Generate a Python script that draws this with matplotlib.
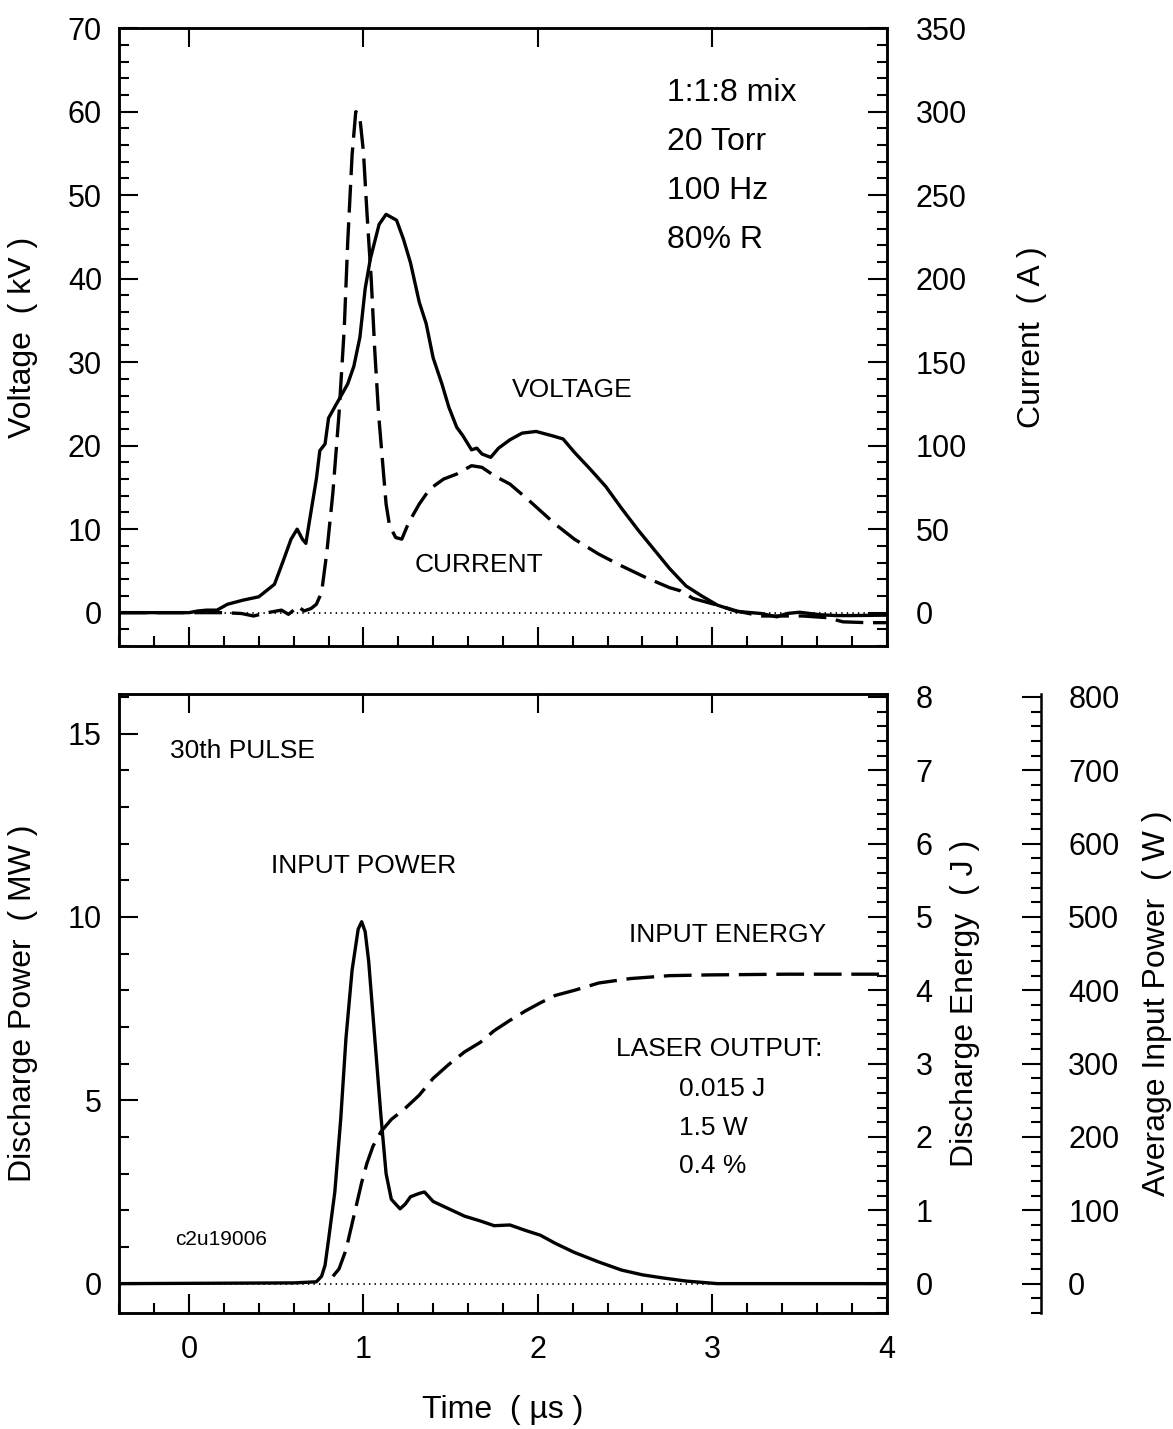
import numpy as np
import matplotlib
matplotlib.use('Agg')
import matplotlib.pyplot as plt
from matplotlib.ticker import MultipleLocator

plt.rcParams['font.family'] = ['Liberation Sans', 'DejaVu Sans']
plt.rcParams['lines.scale_dashes'] = False

# ---- top panel: voltage (kV) and current (A) vs time (us)
t_volt = [-0.4, 0.0, 0.05, 0.10, 0.16, 0.22, 0.31, 0.40, 0.49, 0.54,
          0.585, 0.62, 0.65, 0.67, 0.69, 0.73, 0.75, 0.78, 0.80, 0.84,
          0.87, 0.91, 0.945, 0.98, 1.01, 1.04, 1.09, 1.13, 1.19, 1.23,
          1.27, 1.32, 1.36, 1.40, 1.45, 1.49, 1.535, 1.57, 1.62, 1.65,
          1.68, 1.73, 1.775, 1.84, 1.91, 1.99, 2.08, 2.145, 2.21, 2.30,
          2.39, 2.48, 2.575, 2.665, 2.755, 2.85, 2.94, 3.03, 3.14, 3.28,
          3.37, 3.43, 3.50, 3.62, 3.71, 3.80, 4.0]
voltage = [0, 0, 0.2, 0.3, 0.3, 1.0, 1.5, 1.9, 3.4, 6.2,
           8.8, 10.0, 8.8, 8.3, 10.9, 16.0, 19.4, 20.2, 23.3, 24.8,
           25.9, 27.4, 29.5, 33.0, 38.8, 42.4, 46.5, 47.7, 47.0, 44.7,
           41.9, 37.2, 34.6, 30.5, 27.4, 24.6, 22.2, 21.2, 19.5, 19.7,
           19.0, 18.6, 19.7, 20.7, 21.5, 21.7, 21.2, 20.8, 19.2, 17.2,
           15.1, 12.5, 9.9, 7.6, 5.3, 3.2, 2.0, 0.9, 0.15, -0.1,
           -0.5, -0.1, 0.05, -0.25, -0.35, -0.35, -0.3]

t_curr = [-0.4, 0.0, 0.2, 0.30, 0.37, 0.45, 0.53, 0.57, 0.60, 0.62,
          0.66, 0.70, 0.73, 0.76, 0.79, 0.825, 0.86, 0.89, 0.91, 0.935,
          0.956, 0.978, 1.0, 1.02, 1.045, 1.065, 1.087, 1.11, 1.13, 1.15,
          1.185, 1.22, 1.26, 1.32, 1.38, 1.46, 1.535, 1.62, 1.68, 1.75,
          1.84, 1.93, 2.015, 2.10, 2.21, 2.35, 2.48, 2.62, 2.755, 2.82,
          2.89, 3.03, 3.14, 3.28, 3.39, 3.52, 3.66, 3.75, 3.89, 4.0]
current = [0, 0, 0, -0.5, -2, 0, 1.5, -1, 1.5, 4,
           1, 2.5, 5, 12, 36, 72, 119, 170, 222, 274,
           300, 298, 276, 240, 199, 157, 119, 90, 65, 52,
           45, 44, 54, 65, 74, 80, 83, 88, 87, 82,
           77, 69, 61, 53, 44, 35, 28, 21, 15, 13,
           8.5, 4.5, 1, -2, -2, -2, -3, -5.5, -6, -6]

# ---- bottom panel: discharge power (MW) and energy (J)
t_pow = [-0.4, 0.6, 0.73, 0.76, 0.78, 0.80, 0.836, 0.87, 0.90, 0.935,
         0.97, 0.99, 1.01, 1.03, 1.065, 1.10, 1.13, 1.16, 1.21, 1.24,
         1.27, 1.32, 1.35, 1.40, 1.49, 1.58, 1.67, 1.75, 1.84, 1.93,
         2.015, 2.10, 2.21, 2.35, 2.48, 2.60, 2.71, 2.85, 3.03, 4.0]
power = [0, 0.02, 0.05, 0.2, 0.5, 1.2, 2.5, 4.5, 6.7, 8.55,
         9.67, 9.87, 9.6, 8.8, 6.7, 4.6, 3.0, 2.3, 2.04, 2.17,
         2.37, 2.46, 2.5, 2.24, 2.04, 1.84, 1.71, 1.58, 1.6, 1.45,
         1.32, 1.1, 0.85, 0.59, 0.37, 0.24, 0.16, 0.07, 0.0, 0.0]

t_en = [0.825, 0.86, 0.90, 0.945, 0.99, 1.02, 1.055, 1.10, 1.16, 1.23,
        1.32, 1.40, 1.49, 1.58, 1.67, 1.75, 1.84, 1.93, 2.015, 2.10,
        2.21, 2.35, 2.53, 2.755, 2.98, 3.43, 4.0]
energy = [0.1, 0.2, 0.46, 0.92, 1.38, 1.64, 1.875, 2.07, 2.24, 2.37,
          2.57, 2.8, 2.99, 3.16, 3.29, 3.45, 3.59, 3.72, 3.83, 3.93,
          4.0, 4.1, 4.16, 4.2, 4.21, 4.22, 4.22]

rep_rate = 100  # Hz
conditions = ['1:1:8 mix', '20 Torr', '100 Hz', '80% R']
laser_out = ['0.015 J', '1.5 W', '0.4 %']

TICK_FS = 22
LABEL_FS = 23
ANN_FS = 19
LW = 2.4
DASH = (20, 7)

fig = plt.figure(figsize=(11.73, 14.29), dpi=100)
ax_top = fig.add_axes([0.1017, 0.5479, 0.6541, 0.4324])
ax_bot = fig.add_axes([0.1017, 0.0812, 0.6541, 0.4331])


def style(ax, pad=12.5):
    for s in ax.spines.values():
        s.set_linewidth(1.8)
    ax.tick_params(which='both', direction='in', width=1.5, labelsize=TICK_FS)
    ax.tick_params(which='major', length=14)
    ax.tick_params(which='minor', length=7)
    ax.tick_params(axis='y', pad=pad)


# top panel
ax_top.plot(t_volt, voltage, color='black', lw=LW)
ax_top.axhline(0, color='black', lw=1.3, ls=(0, (1, 3)))
ax_top.set_xlim(-0.4, 4.0)
ax_top.set_ylim(-4, 70)
ax_top.xaxis.set_major_locator(MultipleLocator(1))
ax_top.xaxis.set_minor_locator(MultipleLocator(0.2))
ax_top.yaxis.set_major_locator(MultipleLocator(10))
ax_top.yaxis.set_minor_locator(MultipleLocator(2))
style(ax_top)
ax_top.tick_params(axis='x', top=True, labelbottom=False)
ax_top.set_ylabel('Voltage  ( kV )', fontsize=LABEL_FS)
ax_top.yaxis.set_label_coords(-0.106, 0.5)

ax_cur = ax_top.twinx()
ax_cur.plot(t_curr, current, color='black', lw=LW, dashes=DASH)
ax_cur.set_ylim(-20, 350)
ax_cur.yaxis.set_major_locator(MultipleLocator(50))
ax_cur.yaxis.set_minor_locator(MultipleLocator(10))
style(ax_cur, pad=21)
ax_cur.set_ylabel('Current  ( A )', fontsize=LABEL_FS)
ax_cur.yaxis.set_label_coords(1.170, 0.5)

for k, txt in enumerate(conditions):
    ax_top.text(2.74, 62.2 - 5.85 * k, txt, fontsize=LABEL_FS, va='center', ha='left')
ax_top.text(2.2, 26.7, 'VOLTAGE', fontsize=ANN_FS, ha='center', va='center')
ax_top.text(1.66, 5.7, 'CURRENT', fontsize=ANN_FS, ha='center', va='center')

# bottom panel
ax_bot.plot(t_pow, power, color='black', lw=LW)
ax_bot.axhline(0, color='black', lw=1.3, ls=(0, (1, 3)))
ax_bot.set_xlim(-0.4, 4.0)
ax_bot.set_ylim(-0.8, 16.08)
ax_bot.xaxis.set_major_locator(MultipleLocator(1))
ax_bot.xaxis.set_minor_locator(MultipleLocator(0.2))
ax_bot.yaxis.set_major_locator(MultipleLocator(5))
ax_bot.yaxis.set_minor_locator(MultipleLocator(1))
style(ax_bot)
ax_bot.tick_params(axis='x', top=True, pad=16)
ax_bot.set_ylabel('Discharge Power  ( MW )', fontsize=LABEL_FS)
ax_bot.yaxis.set_label_coords(-0.106, 0.5)
ax_bot.set_xlabel('Time  ( \u00b5s )', fontsize=LABEL_FS)
ax_bot.xaxis.set_label_coords(0.5, -0.132)

ax_en = ax_bot.twinx()
ax_en.plot(t_en, energy, color='black', lw=LW, dashes=DASH)
ax_en.set_ylim(-0.4, 8.04)
ax_en.yaxis.set_major_locator(MultipleLocator(1))
ax_en.yaxis.set_minor_locator(MultipleLocator(0.2))
style(ax_en, pad=21)
ax_en.set_ylabel('Discharge Energy  ( J )', fontsize=LABEL_FS)
ax_en.yaxis.set_label_coords(1.083, 0.5)

ax_avg = ax_bot.twinx()
ax_avg.spines['right'].set_position(('axes', 1.2014))
for s in ['left', 'top', 'bottom']:
    ax_avg.spines[s].set_visible(False)
lo, hi = ax_en.get_ylim()
ax_avg.set_ylim(lo * rep_rate, hi * rep_rate)
ax_avg.yaxis.set_major_locator(MultipleLocator(100))
ax_avg.yaxis.set_minor_locator(MultipleLocator(20))
style(ax_avg, pad=19.5)
ax_avg.set_ylabel('Average Input Power  ( W )', fontsize=LABEL_FS)
ax_avg.yaxis.set_label_coords(1.333, 0.5)

ax_bot.text(-0.11, 14.54, '30th PULSE', fontsize=ANN_FS, ha='left', va='center')
ax_bot.text(1.0, 11.38, 'INPUT POWER', fontsize=ANN_FS, ha='center', va='center')
ax_bot.text(3.09, 9.5, 'INPUT ENERGY', fontsize=ANN_FS, ha='center', va='center')
ax_bot.text(3.04, 6.4, 'LASER OUTPUT:', fontsize=ANN_FS, ha='center', va='center')
for k, txt in enumerate(laser_out):
    ax_bot.text(2.81, 5.3 - 1.05 * k, txt, fontsize=ANN_FS, ha='left', va='center')
ax_bot.text(-0.08, 1.2, 'c2u19006', fontsize=15, ha='left', va='center')

fig.savefig('out.png', dpi=100)
